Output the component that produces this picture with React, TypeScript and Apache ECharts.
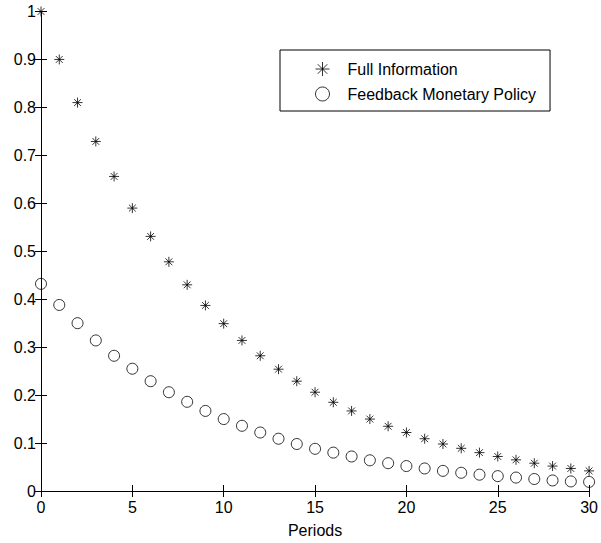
import React, { useEffect, useRef } from "react";
import * as echarts from "echarts";

const periods = [0, 1, 2, 3, 4, 5, 6, 7, 8, 9, 10, 11, 12, 13, 14, 15, 16, 17, 18, 19, 20, 21, 22, 23, 24, 25, 26, 27, 28, 29, 30];
const fullInformation = [1, 0.9, 0.81, 0.729, 0.656, 0.59, 0.531, 0.478, 0.43, 0.387, 0.349, 0.314, 0.282, 0.254, 0.229, 0.206, 0.185, 0.167, 0.15, 0.135, 0.122, 0.109, 0.098, 0.089, 0.08, 0.072, 0.065, 0.058, 0.052, 0.047, 0.042];
const feedbackPolicy = [0.432, 0.388, 0.35, 0.314, 0.282, 0.255, 0.229, 0.206, 0.186, 0.167, 0.15, 0.136, 0.122, 0.109, 0.098, 0.088, 0.08, 0.072, 0.064, 0.058, 0.052, 0.047, 0.042, 0.038, 0.034, 0.031, 0.028, 0.025, 0.022, 0.02, 0.019];
const seriesNames = ["Full Information", "Feedback Monetary Policy"];
const xLabel = "Periods";

const FONT = '"Liberation Sans", Arial, Helvetica, sans-serif';
const STAR = "path://M5,0L5,10M0,5L10,5M1.6,1.6L8.4,8.4M1.6,8.4L8.4,1.6";

export default function App() {
  const ref = useRef<HTMLDivElement>(null);
  useEffect(() => {
    if (!ref.current) return;
    const chart = echarts.init(ref.current, undefined, { renderer: "svg" });
    const markerStyle = { color: "transparent", borderColor: "#000", borderWidth: 1 };
    const axisCommon = {
      type: "value" as const,
      axisLine: { show: true, lineStyle: { color: "#000", width: 1 } },
      axisTick: { show: true, inside: true, length: 6, lineStyle: { color: "#000" } },
      splitLine: { show: false },
    };
    chart.setOption({
      animation: false,
      backgroundColor: "#fff",
      textStyle: { fontFamily: FONT },
      grid: { left: 41, top: 11.5, right: 7.7, bottom: 51.3, containLabel: false },
      legend: {
        orient: "vertical",
        left: 280,
        top: 50,
        padding: [11, 14, 9, 35],
        itemWidth: 40,
        itemHeight: 14,
        itemGap: 9,
        borderColor: "#000",
        borderWidth: 1,
        backgroundColor: "#fff",
        textStyle: { fontFamily: FONT, fontSize: 16, color: "#000", lineHeight: 14 },
        data: [
          { name: seriesNames[0], icon: STAR, itemStyle: markerStyle },
          { name: seriesNames[1], icon: "circle", itemStyle: markerStyle },
        ],
      },
      xAxis: [
        {
          ...axisCommon,
          position: "bottom",
          min: 0,
          max: 30,
          interval: 5,
          name: xLabel,
          nameLocation: "middle",
          nameGap: 31,
          nameTextStyle: { fontFamily: FONT, fontSize: 16, color: "#000" },
          axisLabel: { show: true, margin: 8, fontFamily: FONT, fontSize: 16, color: "#000" },
        },
        {
          ...axisCommon,
          position: "top",
          min: 0,
          max: 30,
          interval: 5,
          axisLabel: { show: false },
        },
      ],
      yAxis: [
        {
          ...axisCommon,
          position: "left",
          min: 0,
          max: 1,
          interval: 0.1,
          axisLabel: {
            show: true,
            margin: 5,
            fontFamily: FONT,
            fontSize: 16,
            color: "#000",
            formatter: (v: number) => String(Math.round(v * 10) / 10),
          },
        },
        {
          ...axisCommon,
          position: "right",
          min: 0,
          max: 1,
          interval: 0.1,
          axisLabel: { show: false },
        },
      ],
      series: [
        {
          name: seriesNames[0],
          type: "scatter",
          symbol: STAR,
          symbolSize: 10,
          itemStyle: markerStyle,
          clip: false,
          data: periods.map((p, i) => [p, fullInformation[i]]),
        },
        {
          name: seriesNames[1],
          type: "scatter",
          symbol: "circle",
          symbolSize: 11,
          itemStyle: markerStyle,
          clip: false,
          data: periods.map((p, i) => [p, feedbackPolicy[i]]),
        },
      ],
    });
    return () => chart.dispose();
  }, []);
  return <div ref={ref} style={{ position: "absolute", left: 0, top: 0, width: 601, height: 543 }} />;
}
